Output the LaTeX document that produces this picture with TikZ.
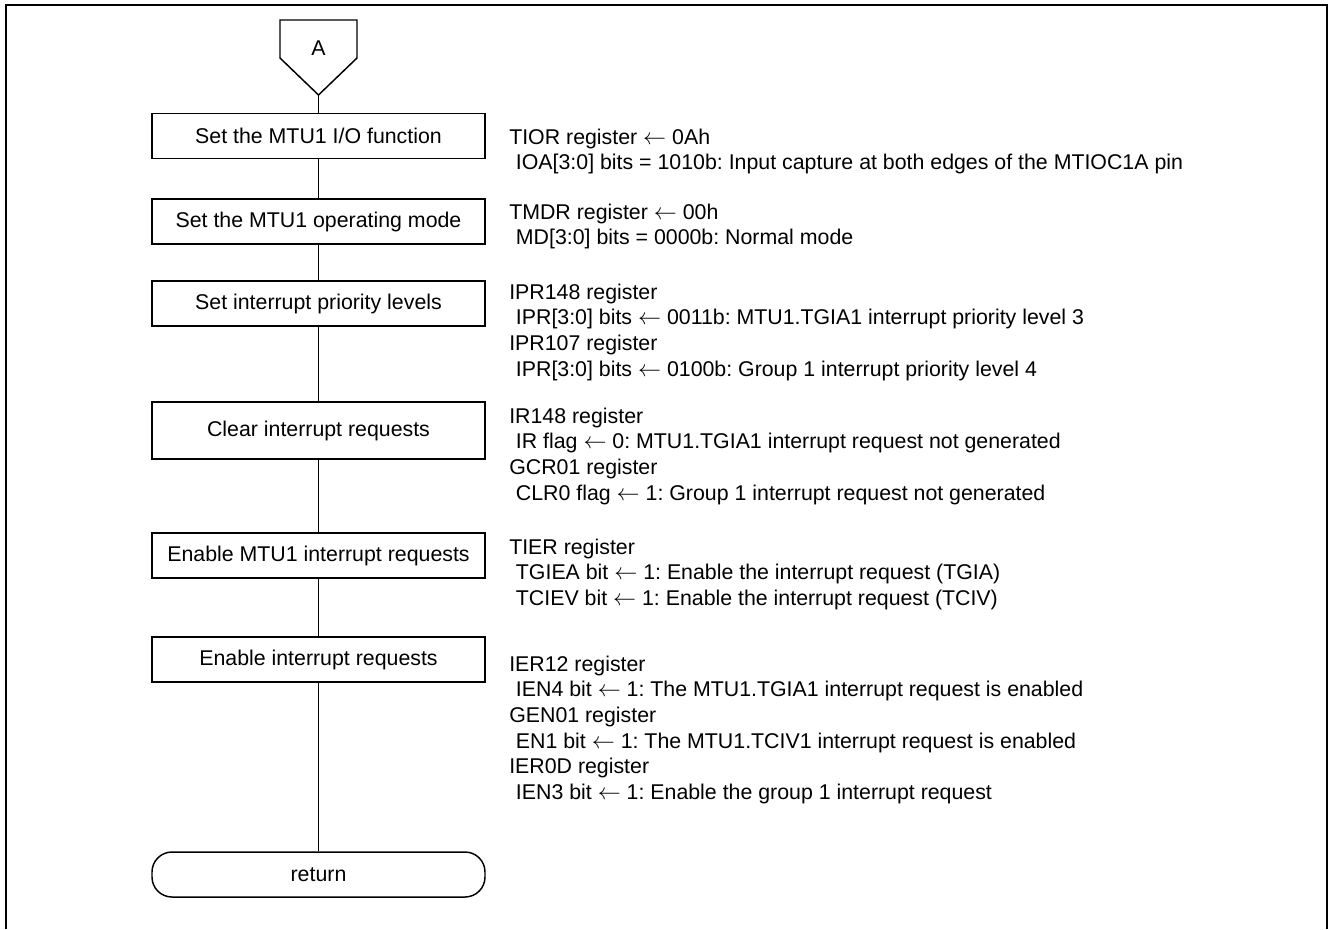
\documentclass[tikz,border=0pt]{standalone}
\usepackage{fontspec}
\setmainfont{Liberation Sans}
\frenchspacing
\usetikzlibrary{shapes.misc}
\begin{document}
\begin{tikzpicture}[x=0.75pt,y=-0.75pt]
\tikzset{etape/.style={draw, line width=1.1pt, minimum width=249.75pt, minimum height=33.75pt, inner sep=0pt, font=\fontsize{16}{19.2}\selectfont}}
\tikzset{note/.style={anchor=north west, inner sep=0pt, align=left, font=\fontsize{16}{19.2}\selectfont}}
\tikzset{fil/.style={line width=1pt}}
\useasboundingbox (0,0) rectangle (1330,929);
\draw[line width=1.7pt] (6,929) -- (6,5) -- (1327,5) -- (1327,929);
\draw[line width=1.1pt] (280,20) -- (357,20) -- (357,58) -- (318.5,95) -- (280,58) -- cycle;
\node[inner sep=0pt, font=\fontsize{16}{19.2}\selectfont] (A) at (318.5,48) {A};
\coordinate (Abas) at (318.5,95);
\node[etape] (E1) at (318.5,136) {Set the MTU1 I/O function};
\node[etape] (E2) at (318.5,221.5) {Set the MTU1 operating mode};
\node[etape] (E3) at (318.5,303.5) {Set interrupt priority levels};
\node[etape, minimum height=42.75pt] (E4) at (318.5,430.5) {Clear interrupt requests};
\node[etape] (E5) at (318.5,555.5) {Enable MTU1 interrupt requests};
\node[etape] (E6) at (318.5,659.5) {Enable interrupt requests};
\node[etape, rounded corners=15pt] (R) at (318.5,874.5) {return};
\draw[fil] (Abas) -- (E1);
\draw[fil] (E1) -- (E2);
\draw[fil] (E2) -- (E3);
\draw[fil] (E3) -- (E4);
\draw[fil] (E4) -- (E5);
\draw[fil] (E5) -- (E6);
\draw[fil] (E6) -- (R);
\node[note] (T1) at (509,128.5) {TIOR register $\leftarrow$ 0Ah\\
\hspace*{5pt}IOA[3:0] bits = 1010b: Input capture at both edges of the MTIOC1A pin};
\node[note] (T2) at (509,203.5) {TMDR register $\leftarrow$ 00h\\
\hspace*{5pt}MD[3:0] bits = 0000b: Normal mode};
\node[note] (T3) at (509,283.5) {IPR148 register\\
\hspace*{5pt}IPR[3:0] bits $\leftarrow$ 0011b: MTU1.TGIA1 interrupt priority level 3\\
IPR107 register\\
\hspace*{5pt}IPR[3:0] bits $\leftarrow$ 0100b: Group 1 interrupt priority level 4};
\node[note] (T4) at (509,407.5) {IR148 register\\
\hspace*{5pt}IR flag $\leftarrow$ 0: MTU1.TGIA1 interrupt request not generated\\
GCR01 register\\
\hspace*{5pt}CLR0 flag $\leftarrow$ 1: Group 1 interrupt request not generated};
\node[note] (T5) at (509,538.5) {TIER register\\
\hspace*{5pt}TGIEA bit $\leftarrow$ 1: Enable the interrupt request (TGIA)\\
\hspace*{5pt}TCIEV bit $\leftarrow$ 1: Enable the interrupt request (TCIV)};
\node[note] (T6) at (509,655.5) {IER12 register\\
\hspace*{5pt}IEN4 bit $\leftarrow$ 1: The MTU1.TGIA1 interrupt request is enabled\\
GEN01 register\\
\hspace*{5pt}EN1 bit $\leftarrow$ 1: The MTU1.TCIV1 interrupt request is enabled\\
IER0D register\\
\hspace*{5pt}IEN3 bit $\leftarrow$ 1: Enable the group 1 interrupt request};
\end{tikzpicture}
\end{document}
